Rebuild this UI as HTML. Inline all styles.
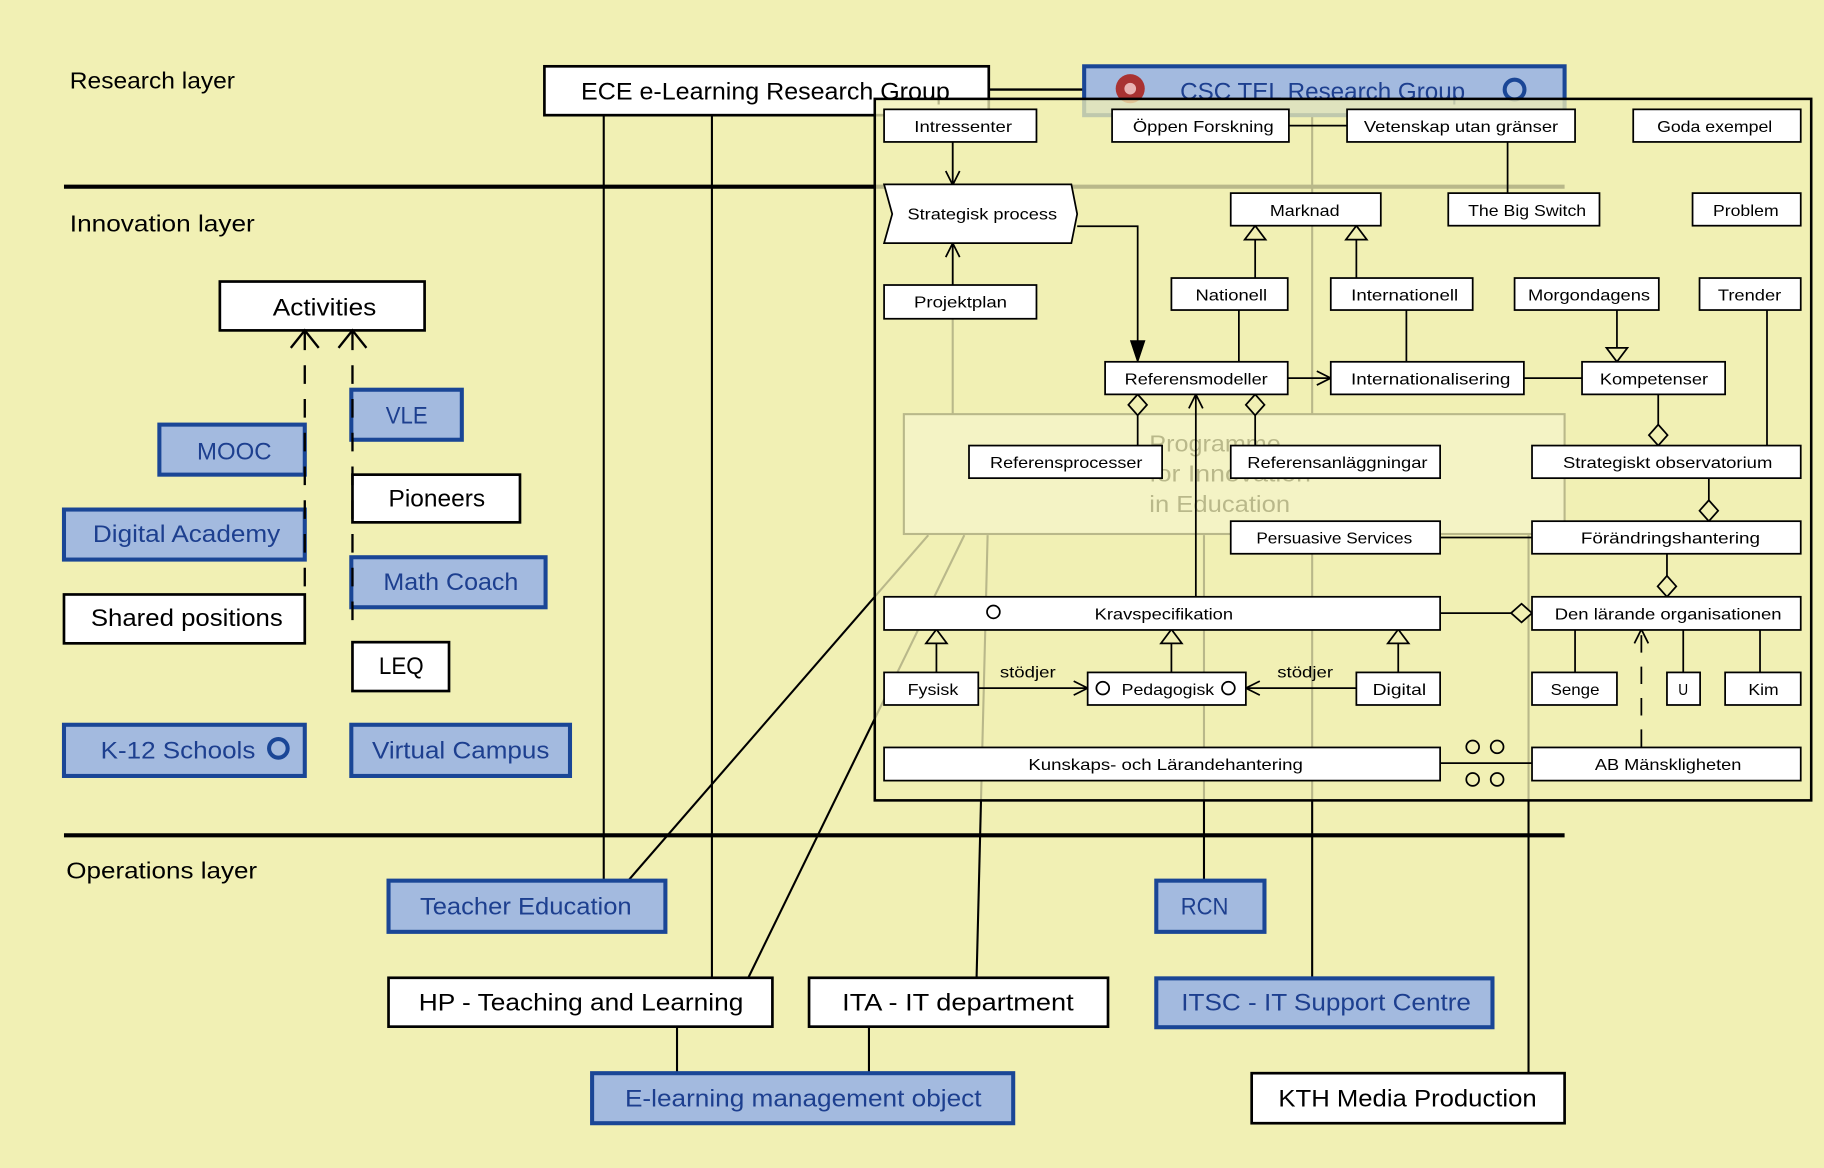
<!DOCTYPE html>
<html><head><meta charset="utf-8">
<style>
html,body{margin:0;padding:0;background:#f1f0b4;overflow:hidden}
svg{display:block}
text{font-family:"Liberation Sans","DejaVu Sans",sans-serif;text-anchor:middle;fill:#000}
.s{font-size:13.5px}
.L{font-size:20.5px}
.st{text-anchor:start}
.b{fill:#1d3f8f}
.wb{fill:#fff;stroke:#000;stroke-width:2.3}
.bb{fill:#a3badf;stroke:#1a4696;stroke-width:3.5}
.ib{fill:#fff;stroke:#000;stroke-width:1.5}
.ln{stroke:#000;stroke-width:1.5;fill:none}
.ul{stroke:#000;stroke-width:1.8;fill:none}
.tri{fill:#f1f0b4;stroke:#000;stroke-width:1.5}
</style></head><body>
<svg width="1824" height="1168" viewBox="0 0 1568 1004" preserveAspectRatio="none" xmlns="http://www.w3.org/2000/svg">
<rect width="1568" height="1004" fill="#f1f0b4"/>

<!-- layer labels -->
<text class="st" x="60" y="76" font-size="20" textLength="142" lengthAdjust="spacingAndGlyphs">Research layer</text>
<text class="st" x="60" y="199" font-size="20" textLength="159" lengthAdjust="spacingAndGlyphs">Innovation layer</text>
<text class="st" x="57" y="755" font-size="20" textLength="164" lengthAdjust="spacingAndGlyphs">Operations layer</text>

<!-- thick layer lines -->
<path d="M55,160.5 H1345" stroke="#000" stroke-width="3.5"/>
<path d="M55,718 H1345" stroke="#000" stroke-width="3.5"/>

<!-- underlying connectors -->
<path class="ul" d="M519,98 V757"/>
<path class="ul" d="M612,98 V841"/>
<path class="ul" d="M819,98 V356"/>
<path class="ul" d="M1128,98 V841"/>
<path class="ul" d="M798,460 L540,757"/>
<path class="ul" d="M829,460 L643,841"/>
<path class="ul" d="M849,460 L839.5,841"/>
<path class="ul" d="M1035,460 V757"/>
<path class="ul" d="M1314,460 V922"/>
<path class="ul" d="M582,882 V922"/>
<path class="ul" d="M747,882 V922"/>

<!-- Programme box -->
<rect x="777" y="356" width="568" height="103" fill="#fff" stroke="#000" stroke-width="1.8"/>
<text class="st" x="988" y="388" font-size="20" textLength="113" lengthAdjust="spacingAndGlyphs">Programme</text>
<text class="st" x="988" y="414" font-size="20" textLength="139" lengthAdjust="spacingAndGlyphs">for Innovation</text>
<text class="st" x="988" y="440" font-size="20" textLength="121" lengthAdjust="spacingAndGlyphs">in Education</text>

<!-- ECE and CSC -->
<rect class="wb" x="468" y="57" width="382" height="42"/>
<text class="L" x="658" y="85.5" textLength="317" lengthAdjust="spacingAndGlyphs">ECE e-Learning Research Group</text>
<path d="M850,77 H932" stroke="#000" stroke-width="2"/>
<rect class="bb" x="932" y="57" width="413" height="42"/>
<text class="L b" x="1137" y="85.5" textLength="245" lengthAdjust="spacingAndGlyphs">CSC TEL Research Group</text>
<circle cx="971.6" cy="76.2" r="12.5" fill="#a93232"/>
<circle cx="971.6" cy="76.2" r="5" fill="#e9b3b3"/>
<circle cx="1302" cy="77" r="8.5" fill="none" stroke="#1a4696" stroke-width="3.5"/>

<!-- frame overlay -->
<rect x="752" y="85" width="805" height="603" fill="#f1f0b4" fill-opacity="0.77"/>
<rect x="752" y="85" width="805" height="603" fill="none" stroke="#000" stroke-width="2.2"/>

<!-- inner connectors -->
<path class="ln" d="M819,122 V159 M813,147 L819,159 L825,147"/>
<path class="ln" d="M819,245 V209 M813,221 L819,209 L825,221"/>
<path class="ln" d="M926,194.5 H978 V296"/>
<path d="M972,293 L978,311 L984,293 Z" fill="#000" stroke="#000" stroke-width="1"/>
<path class="ln" d="M1108,108 H1158"/>
<path class="ln" d="M1296,122 V166"/>
<path class="ln" d="M1079,239 V206"/>
<path class="tri" d="M1079,194 L1088,206 L1070,206 Z"/>
<path class="ln" d="M1166,239 V206"/>
<path class="tri" d="M1166,194 L1175,206 L1157,206 Z"/>
<path class="ln" d="M1065,266 V311"/>
<path class="ln" d="M1209,266 V311"/>
<path class="ln" d="M1390,266 V299"/>
<path class="tri" d="M1390,311 L1381,299 L1399,299 Z"/>
<path class="ln" d="M1519,266 V383"/>
<path class="ln" d="M1107,325 H1144 M1132,319 L1144,325 L1132,331"/>
<path class="ln" d="M1310,325 H1360"/>
<path class="tri" d="M978,339 L986,348 L978,357 L970,348 Z"/>
<path class="ln" d="M978,357 V383"/>
<path class="tri" d="M1079,339 L1087,348 L1079,357 L1071,348 Z"/>
<path class="ln" d="M1079,357 V383"/>
<path class="ln" d="M1028,513 V339 M1022,351 L1028,339 L1034,351"/>
<path class="ln" d="M1425.5,339 V365"/>
<path class="tri" d="M1425.5,365 L1433.5,374 L1425.5,383 L1417.5,374 Z"/>
<path class="ln" d="M1238,462 H1317"/>
<path class="ln" d="M1469,411 V430"/>
<path class="tri" d="M1469,430 L1477,439 L1469,448 L1461,439 Z"/>
<path class="ln" d="M1433,476 V495"/>
<path class="tri" d="M1433,495 L1441,504 L1433,513 L1425,504 Z"/>
<path class="ln" d="M1238,527 H1299"/>
<path class="tri" d="M1299,527 L1308,519 L1317,527 L1308,535 Z"/>
<path class="ln" d="M805,578 V553"/>
<path class="tri" d="M805,541 L814,553 L796,553 Z"/>
<path class="ln" d="M1007,578 V553"/>
<path class="tri" d="M1007,541 L1016,553 L998,553 Z"/>
<path class="ln" d="M1202,578 V553"/>
<path class="tri" d="M1202,541 L1211,553 L1193,553 Z"/>
<path class="ln" d="M841,591.5 H935 M923,585.5 L935,591.5 L923,597.5"/>
<path class="ln" d="M1166,591.5 H1071 M1083,585.5 L1071,591.5 L1083,597.5"/>
<text class="s" x="883.5" y="582.5" textLength="48" lengthAdjust="spacingAndGlyphs">stödjer</text>
<text class="s" x="1122" y="582.5" textLength="48" lengthAdjust="spacingAndGlyphs">stödjer</text>
<path class="ln" d="M1354,541 V578 M1447,541 V578 M1513,541 V578"/>
<path class="ln" d="M1411,642 V542" stroke-dasharray="15 12"/>
<path class="ln" d="M1405,553 L1411,541 L1417,553"/>
<path class="ln" d="M1238,656 H1317"/>
<circle cx="1266" cy="642" r="5.5" fill="none" stroke="#000" stroke-width="1.5"/>
<circle cx="1287" cy="642" r="5.5" fill="none" stroke="#000" stroke-width="1.5"/>
<circle cx="1266" cy="670" r="5.5" fill="none" stroke="#000" stroke-width="1.5"/>
<circle cx="1287" cy="670" r="5.5" fill="none" stroke="#000" stroke-width="1.5"/>

<!-- inner boxes -->
<rect class="ib" x="760" y="94" width="131" height="28"/>
<text class="s" x="828" y="113.3" textLength="84" lengthAdjust="spacingAndGlyphs">Intressenter</text>
<rect class="ib" x="956" y="94" width="152" height="28"/>
<text class="s" x="1034.4" y="113.3" textLength="121" lengthAdjust="spacingAndGlyphs">Öppen Forskning</text>
<rect class="ib" x="1158" y="94" width="196" height="28"/>
<text class="s" x="1256" y="113.3" textLength="167" lengthAdjust="spacingAndGlyphs">Vetenskap utan gränser</text>
<rect class="ib" x="1404" y="94" width="144" height="28"/>
<text class="s" x="1474" y="113.3" textLength="99" lengthAdjust="spacingAndGlyphs">Goda exempel</text>

<polygon class="ib" points="760,158.5 921,158.5 926,184 921,209 760,209 767,184"/>
<text class="s" x="844.4" y="188.8" textLength="128.6" lengthAdjust="spacingAndGlyphs">Strategisk process</text>

<rect class="ib" x="1058" y="166" width="129" height="28"/>
<text class="s" x="1121.6" y="185.5" textLength="60" lengthAdjust="spacingAndGlyphs">Marknad</text>
<rect class="ib" x="1245" y="166" width="130" height="28"/>
<text class="s" x="1312.8" y="185.5" textLength="101.5" lengthAdjust="spacingAndGlyphs">The Big Switch</text>
<rect class="ib" x="1455" y="166" width="93" height="28"/>
<text class="s" x="1500.8" y="185.5" textLength="56.4" lengthAdjust="spacingAndGlyphs">Problem</text>

<rect class="ib" x="760" y="245" width="131" height="29"/>
<text class="s" x="825.7" y="264.5" textLength="80" lengthAdjust="spacingAndGlyphs">Projektplan</text>

<rect class="ib" x="1007" y="239" width="100" height="27.5"/>
<text class="s" x="1058.5" y="258.3" textLength="61.5" lengthAdjust="spacingAndGlyphs">Nationell</text>
<rect class="ib" x="1144" y="239" width="122" height="27.5"/>
<text class="s" x="1207.5" y="258.3" textLength="92" lengthAdjust="spacingAndGlyphs">Internationell</text>
<rect class="ib" x="1302" y="239" width="124" height="27.5"/>
<text class="s" x="1366" y="258.3" textLength="105" lengthAdjust="spacingAndGlyphs">Morgondagens</text>
<rect class="ib" x="1461" y="239" width="87" height="27.5"/>
<text class="s" x="1504" y="258.3" textLength="54.5" lengthAdjust="spacingAndGlyphs">Trender</text>

<rect class="ib" x="950" y="311" width="157" height="28"/>
<text class="s" x="1028.3" y="330.4" textLength="123" lengthAdjust="spacingAndGlyphs">Referensmodeller</text>
<rect class="ib" x="1144" y="311" width="166" height="28"/>
<text class="s" x="1229.9" y="330.4" textLength="137" lengthAdjust="spacingAndGlyphs">Internationalisering</text>
<rect class="ib" x="1360" y="311" width="123" height="28"/>
<text class="s" x="1421.8" y="330.4" textLength="93" lengthAdjust="spacingAndGlyphs">Kompetenser</text>

<rect class="ib" x="833" y="383" width="166" height="28"/>
<text class="s" x="916.6" y="402.4" textLength="131" lengthAdjust="spacingAndGlyphs">Referensprocesser</text>
<rect class="ib" x="1058" y="383" width="180" height="28"/>
<text class="s" x="1149.7" y="402.4" textLength="155" lengthAdjust="spacingAndGlyphs">Referensanläggningar</text>
<rect class="ib" x="1317" y="383" width="231" height="28"/>
<text class="s" x="1433.6" y="402.4" textLength="180" lengthAdjust="spacingAndGlyphs">Strategiskt observatorium</text>

<rect class="ib" x="1058" y="448" width="180" height="28"/>
<text class="s" x="1147" y="467.4" textLength="134" lengthAdjust="spacingAndGlyphs">Persuasive Services</text>
<rect class="ib" x="1317" y="448" width="231" height="28"/>
<text class="s" x="1436" y="467.4" textLength="154" lengthAdjust="spacingAndGlyphs">Förändringshantering</text>

<rect class="ib" x="760" y="513" width="478" height="28.5"/>
<text class="s" x="1000.5" y="532.4" textLength="119" lengthAdjust="spacingAndGlyphs">Kravspecifikation</text>
<circle cx="854" cy="526" r="5.5" fill="none" stroke="#000" stroke-width="1.5"/>
<rect class="ib" x="1317" y="513" width="231" height="28.5"/>
<text class="s" x="1434" y="532.4" textLength="195" lengthAdjust="spacingAndGlyphs">Den lärande organisationen</text>

<rect class="ib" x="760" y="578" width="81" height="28"/>
<text class="s" x="802" y="597.4" textLength="43.6" lengthAdjust="spacingAndGlyphs">Fysisk</text>
<rect class="ib" x="935" y="578" width="136" height="28"/>
<text class="s" x="1004" y="597.4" textLength="79.5" lengthAdjust="spacingAndGlyphs">Pedagogisk</text>
<circle cx="948" cy="591.5" r="5.5" fill="none" stroke="#000" stroke-width="1.5"/>
<circle cx="1056" cy="591.5" r="5.5" fill="none" stroke="#000" stroke-width="1.5"/>
<rect class="ib" x="1166" y="578" width="72" height="28"/>
<text class="s" x="1203" y="597.4" textLength="46" lengthAdjust="spacingAndGlyphs">Digital</text>
<rect class="ib" x="1317" y="578" width="73" height="28"/>
<text class="s" x="1354" y="597.4" textLength="42" lengthAdjust="spacingAndGlyphs">Senge</text>
<rect class="ib" x="1433" y="578" width="28.5" height="28"/>
<text class="s" x="1447" y="597.4" textLength="8.5" lengthAdjust="spacingAndGlyphs">U</text>
<rect class="ib" x="1483" y="578" width="65" height="28"/>
<text class="s" x="1516" y="597.4" textLength="26" lengthAdjust="spacingAndGlyphs">Kim</text>

<rect class="ib" x="760" y="642.5" width="478" height="28.5"/>
<text class="s" x="1002" y="661.8" textLength="236" lengthAdjust="spacingAndGlyphs">Kunskaps- och Lärandehantering</text>
<rect class="ib" x="1317" y="642.5" width="231" height="28.5"/>
<text class="s" x="1434" y="661.8" textLength="126" lengthAdjust="spacingAndGlyphs">AB Mänskligheten</text>

<!-- left side boxes -->
<rect class="wb" x="189" y="242" width="176" height="42"/>
<text class="L" x="279" y="271" textLength="89" lengthAdjust="spacingAndGlyphs">Activities</text>
<rect class="bb" x="137" y="365" width="125" height="43"/>
<text class="L b" x="201.4" y="395" textLength="64" lengthAdjust="spacingAndGlyphs">MOOC</text>
<rect class="bb" x="302" y="335" width="95" height="43"/>
<text class="L b" x="349.6" y="364" textLength="36" lengthAdjust="spacingAndGlyphs">VLE</text>
<rect class="bb" x="55" y="438" width="207" height="43"/>
<text class="L b" x="160.4" y="466" textLength="161" lengthAdjust="spacingAndGlyphs">Digital Academy</text>
<rect class="wb" x="303" y="408" width="144" height="41"/>
<text class="L" x="375.5" y="435.5" textLength="83" lengthAdjust="spacingAndGlyphs">Pioneers</text>
<rect class="bb" x="302" y="479" width="167" height="43"/>
<text class="L b" x="387.6" y="507" textLength="116" lengthAdjust="spacingAndGlyphs">Math Coach</text>
<rect class="wb" x="55" y="511" width="207" height="42"/>
<text class="L" x="160.6" y="538" textLength="165" lengthAdjust="spacingAndGlyphs">Shared positions</text>
<rect class="wb" x="303" y="552" width="83" height="42"/>
<text class="L" x="345" y="579.5" textLength="38.5" lengthAdjust="spacingAndGlyphs">LEQ</text>
<rect class="bb" x="55" y="623" width="207" height="44"/>
<text class="L b" x="153" y="652" textLength="133" lengthAdjust="spacingAndGlyphs">K-12 Schools</text>
<circle cx="239.3" cy="643.3" r="8" fill="none" stroke="#1a4696" stroke-width="3.5"/>
<rect class="bb" x="302" y="623" width="188" height="44"/>
<text class="L b" x="396" y="652" textLength="152.5" lengthAdjust="spacingAndGlyphs">Virtual Campus</text>

<!-- dashed dependencies to Activities -->
<path d="M262,285 V511" stroke="#000" stroke-width="2" stroke-dasharray="16 13" fill="none"/>
<path d="M303,285 V538" stroke="#000" stroke-width="2" stroke-dasharray="16 13" fill="none"/>
<path d="M250,299 L262,284 L274,299 M291,299 L303,284 L315,299" stroke="#000" stroke-width="2" fill="none"/>

<!-- operations boxes -->
<rect class="bb" x="334" y="757" width="238" height="44"/>
<text class="L b" x="452" y="786" textLength="182" lengthAdjust="spacingAndGlyphs">Teacher Education</text>
<rect class="bb" x="994" y="757" width="93" height="44"/>
<text class="L b" x="1035.5" y="786" textLength="41" lengthAdjust="spacingAndGlyphs">RCN</text>
<rect class="wb" x="334" y="840.5" width="330" height="42"/>
<text class="L" x="499.5" y="868.5" textLength="279" lengthAdjust="spacingAndGlyphs">HP - Teaching and Learning</text>
<rect class="wb" x="695.5" y="840.5" width="257" height="42"/>
<text class="L" x="823.5" y="868.5" textLength="199" lengthAdjust="spacingAndGlyphs">ITA - IT department</text>
<rect class="bb" x="994" y="841" width="289" height="42"/>
<text class="L b" x="1140" y="868.5" textLength="249" lengthAdjust="spacingAndGlyphs">ITSC - IT Support Centre</text>
<rect class="bb" x="509" y="922.5" width="362" height="43"/>
<text class="L b" x="690.5" y="951" textLength="306.5" lengthAdjust="spacingAndGlyphs">E-learning management object</text>
<rect class="wb" x="1076" y="922.5" width="269" height="43"/>
<text class="L" x="1210" y="951" textLength="222" lengthAdjust="spacingAndGlyphs">KTH Media Production</text>
</svg>
</body></html>
